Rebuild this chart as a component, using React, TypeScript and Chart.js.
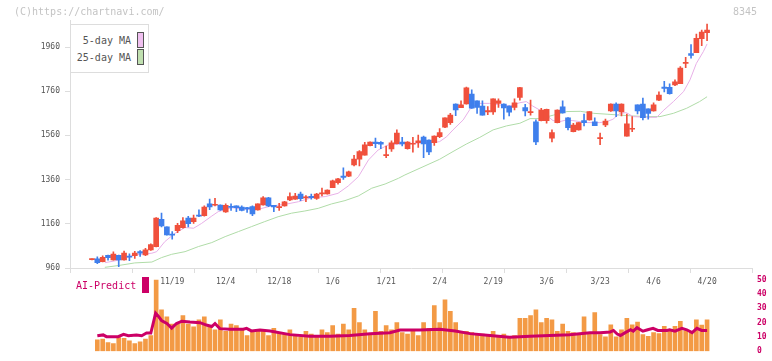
import React, { useEffect, useRef } from 'react';
import { Chart, registerables } from 'chart.js';
Chart.register(...registerables);

// ---- Data ----
const xTickIdx = [15, 25, 35, 45, 55, 65, 75, 85, 95, 105, 115];
const xTickLabels = ['11/19', '12/4', '12/18', '1/6', '1/21', '2/4', '2/19', '3/6', '3/23', '4/6', '4/20'];
const yTicks = [960, 1160, 1360, 1560, 1760, 1960];

const open = [998, 1001, 989, 1017, 996, 1017, 996, 1013, 1016, 1034, 1019, 1042, 1057, 1180, 1146, 1113, 1129, 1143, 1186, 1170, 1200, 1197, 1250, 1244, 1245, 1214, 1238, 1241, 1236, 1233, 1238, 1223, 1245, 1277, 1244, 1233, 1241, 1268, 1271, 1295, 1277, 1284, 1275, 1295, 1295, 1324, 1346, 1376, 1376, 1426, 1453, 1471, 1514, 1530, 1529, 1468, 1499, 1523, 1530, 1500, 1520, 1527, 1553, 1539, 1527, 1554, 1597, 1618, 1702, 1686, 1702, 1747, 1716, 1693, 1666, 1666, 1705, 1702, 1693, 1687, 1732, 1686, 1663, 1622, 1627, 1627, 1548, 1618, 1689, 1640, 1577, 1585, 1627, 1630, 1621, 1545, 1607, 1671, 1702, 1666, 1557, 1588, 1698, 1702, 1680, 1671, 1720, 1779, 1778, 1788, 1794, 1886, 1930, 1934, 1998, 2025];
const high = [1002, 1010, 1015, 1019, 1033, 1019, 1037, 1024, 1036, 1039, 1049, 1069, 1188, 1209, 1146, 1125, 1162, 1188, 1194, 1200, 1223, 1241, 1272, 1275, 1246, 1250, 1250, 1241, 1241, 1234, 1241, 1250, 1283, 1280, 1244, 1253, 1262, 1300, 1298, 1304, 1288, 1295, 1298, 1322, 1314, 1358, 1366, 1413, 1399, 1470, 1491, 1529, 1531, 1548, 1532, 1512, 1536, 1585, 1551, 1532, 1551, 1561, 1557, 1540, 1558, 1591, 1640, 1660, 1703, 1716, 1779, 1766, 1716, 1716, 1690, 1725, 1725, 1703, 1694, 1725, 1778, 1701, 1720, 1630, 1683, 1679, 1585, 1676, 1717, 1641, 1615, 1618, 1657, 1668, 1640, 1570, 1634, 1703, 1708, 1703, 1657, 1645, 1698, 1729, 1680, 1708, 1757, 1805, 1793, 1811, 1871, 1913, 1971, 2019, 2037, 2064];
const low = [997, 980, 987, 995, 995, 966, 995, 993, 1003, 1012, 1016, 1040, 1055, 1146, 1109, 1091, 1120, 1140, 1146, 1162, 1192, 1195, 1224, 1241, 1220, 1211, 1220, 1215, 1218, 1212, 1197, 1222, 1244, 1238, 1215, 1220, 1240, 1265, 1270, 1265, 1260, 1271, 1270, 1286, 1294, 1323, 1339, 1361, 1373, 1422, 1422, 1471, 1513, 1505, 1500, 1459, 1487, 1522, 1512, 1498, 1484, 1506, 1459, 1473, 1515, 1550, 1595, 1610, 1649, 1685, 1701, 1682, 1660, 1652, 1654, 1655, 1687, 1633, 1648, 1675, 1720, 1648, 1652, 1518, 1626, 1615, 1530, 1617, 1661, 1585, 1576, 1584, 1603, 1629, 1604, 1518, 1600, 1668, 1645, 1648, 1557, 1577, 1657, 1630, 1634, 1670, 1717, 1757, 1747, 1785, 1794, 1867, 1909, 1934, 1966, 1989];
const close = [1001, 984, 1008, 1007, 1023, 996, 1028, 1009, 1027, 1027, 1042, 1066, 1186, 1150, 1110, 1108, 1153, 1173, 1161, 1186, 1195, 1236, 1236, 1248, 1223, 1244, 1234, 1233, 1220, 1227, 1205, 1250, 1278, 1241, 1236, 1238, 1259, 1283, 1286, 1274, 1281, 1278, 1295, 1300, 1313, 1354, 1363, 1370, 1395, 1453, 1487, 1517, 1530, 1523, 1520, 1473, 1526, 1571, 1521, 1530, 1524, 1536, 1521, 1485, 1557, 1573, 1639, 1652, 1675, 1698, 1775, 1683, 1687, 1652, 1672, 1725, 1717, 1684, 1665, 1708, 1776, 1671, 1668, 1530, 1675, 1678, 1573, 1675, 1662, 1595, 1607, 1618, 1618, 1668, 1604, 1550, 1625, 1702, 1671, 1702, 1612, 1592, 1671, 1640, 1659, 1698, 1743, 1773, 1749, 1802, 1865, 1891, 1922, 1999, 2028, 2037];

// moving averages: [day index, value]
const ma5: [number, number][] = [[2.4, 984], [4.9, 995], [8, 1019], [11.2, 1027], [12.1, 1034], [13.6, 1079], [15.5, 1117], [17.4, 1143], [19, 1140], [20.5, 1162], [22.4, 1195], [23.6, 1215], [26.1, 1233], [28.6, 1226], [31.1, 1226], [33.6, 1241], [36.1, 1248], [38.6, 1260], [41.1, 1278], [43.6, 1283], [46, 1298], [47.9, 1331], [49.8, 1373], [51.7, 1449], [53.5, 1494], [55.4, 1517], [57.3, 1520], [58.5, 1524], [60, 1524], [62, 1527], [64, 1528], [65, 1532], [66.3, 1554], [67.5, 1585], [69.4, 1630], [70.9, 1687], [72.5, 1705], [74.3, 1705], [76.2, 1698], [78.1, 1693], [80, 1708], [81.2, 1713], [82.4, 1693], [83.7, 1675], [84.9, 1652], [86.2, 1627], [87.4, 1622], [88.7, 1630], [89.9, 1627], [92.5, 1618], [94.9, 1618], [96.2, 1622], [97.4, 1633], [98.7, 1660], [99.9, 1663], [101.2, 1645], [103.7, 1642], [105.6, 1642], [106.8, 1672], [108.7, 1713], [110.6, 1758], [111.8, 1811], [113, 1886], [114.3, 1939], [115, 1974]];
const ma25: [number, number][] = [[2.4, 963], [4.9, 971], [8, 983], [11.2, 987], [13, 1007], [14.9, 1022], [17.4, 1034], [19.9, 1057], [22.4, 1075], [24.9, 1102], [27.4, 1125], [29.8, 1147], [32.3, 1170], [34.8, 1192], [37.3, 1208], [39.8, 1218], [42.3, 1230], [44.8, 1250], [47.3, 1265], [49.8, 1286], [52.3, 1321], [54.8, 1340], [57.3, 1366], [58.5, 1381], [65, 1452], [67.5, 1487], [70, 1521], [72.5, 1551], [75, 1585], [77.5, 1603], [80, 1615], [81.9, 1636], [83.8, 1636], [86.3, 1652], [88.8, 1668], [91.3, 1669], [93.8, 1660], [96.3, 1656], [98.7, 1652], [101.2, 1648], [103.7, 1645], [106.2, 1645], [108.7, 1660], [111.2, 1683], [113.6, 1713], [115, 1735]];

const volume = [null, 7.9, 8.5, 6, 5.4, 9.5, 9.1, 7.2, 5.4, 6.6, 8.5, 11, 55, 29, 24, 19, 19, 25, 19, 17, 22, 24, 18, 15, 22, 14, 19, 18, 15, 11, 14, 15, 14, 11, 16, 13, 12, 15, 11, 10, 14, 12, 10, 15, 13, 18, 12, 19, 15, 30, 20, 15, 12, 28, 14, 18, 15, 20, 13, 12, 15, 11, 20, 16, 32, 20, 36, 28, 20, 14, 14, 13, 12, 12, 11, 14, 10, 12, 10, 11, 23, 23, 25, 29, 20, 23, 22, 14, 19, 14, 13, 12, 24, 13, 27, 11.6, 10, 18.5, 10, 15, 23, 18.5, 20.4, 11.6, 10.4, 13, 12.3, 17.4, 14, 17.4, 21, 14.3, 13, 22, 18.3, 22];
const aiPredict: [number, number][] = [[1, 10.8], [2.1, 11.4], [2.7, 10.2], [4.9, 10.2], [5.9, 11.8], [6.8, 10.8], [8.3, 11.4], [9.3, 10.8], [10.2, 12.7], [11, 12.7], [11.3, 17.3], [11.9, 26.7], [12.4, 24.6], [13, 21.5], [14, 19.4], [14.9, 16.2], [15.8, 19.4], [16.8, 21], [18.3, 20.4], [20.2, 20], [21.4, 18.3], [22.4, 17.3], [23, 19.4], [23.9, 15.8], [25.8, 15.4], [28.3, 15.4], [28.9, 16], [29.8, 14.2], [31.4, 14.8], [33.3, 14.2], [37, 11.6], [40.7, 10.4], [44.5, 10.4], [48.2, 11], [52, 12.3], [55.7, 12.9], [57.6, 14.8], [61.3, 14.8], [65, 15.4], [67.9, 14.2], [70.7, 12.3], [74.4, 11], [78.1, 9.7], [81.9, 10.4], [85.6, 11], [89.3, 11.6], [93.1, 12.9], [95, 13], [96.9, 13.5], [97.5, 14.5], [98.2, 12], [98.8, 11], [99.7, 13], [100.7, 15], [101.2, 14], [101.9, 16.5], [103, 14], [103.9, 15], [104.9, 16], [105.8, 14.5], [107.5, 14.5], [108, 15], [109, 14], [110.3, 16], [111.2, 15], [112.2, 13], [113.1, 16], [114, 14.5], [115, 14.5]];
const aiTicks = [0, 10, 20, 30, 40, 50];

const X_MIN = -4.11;
const X_MAX = 123.4;
const RED = '#f0503c';
const BLUE = '#3f7fec';
const PINK = '#e8b0e8';
const GREEN = '#b0dca8';
const ORANGE = '#f39a45';
const MAGENTA = '#cc0066';
const MONO = '"DejaVu Sans Mono", monospace';

export default function App() {
  const mainRef = useRef<HTMLCanvasElement>(null);
  const subRef = useRef<HTMLCanvasElement>(null);

  useEffect(() => {
    const idx = open.map((_, i) => i);
    const colors = idx.map((i) => (close[i] >= open[i] ? RED : BLUE));

    const main = new Chart(mainRef.current!, {
      type: 'bar',
      data: {
        datasets: [
          {
            type: 'bar',
            data: idx.map((i) => ({ x: i, y: [open[i], close[i]] })) as any,
            backgroundColor: colors,
            barThickness: 5,
            minBarLength: 1,
            grouped: false,
            borderWidth: 0,
          } as any,
          {
            type: 'bar',
            data: idx.map((i) => ({ x: i, y: [low[i], high[i]] })) as any,
            backgroundColor: colors,
            barThickness: 1,
            minBarLength: 1,
            grouped: false,
            borderWidth: 0,
          } as any,
          {
            type: 'line',
            data: ma5.map(([x, y]) => ({ x, y })),
            borderColor: PINK,
            borderWidth: 1,
            pointRadius: 0,
            tension: 0,
          } as any,
          {
            type: 'line',
            data: ma25.map(([x, y]) => ({ x, y })),
            borderColor: GREEN,
            borderWidth: 1,
            pointRadius: 0,
            tension: 0,
          } as any,
        ],
      },
      options: {
        responsive: false,
        animation: false,
        events: [],
        layout: { padding: { top: 20.5, bottom: 11, left: 0, right: 20 } },
        plugins: { legend: { display: false }, tooltip: { enabled: false } },
        scales: {
          xg: {
            type: 'linear',
            position: 'bottom',
            min: X_MIN,
            max: X_MAX,
            offset: false,
            weight: 0,
            grid: { display: true, offset: false, drawOnChartArea: false, drawTicks: true, tickLength: 5, color: '#dddddd' },
            border: { display: true, color: '#dddddd' },
            ticks: { display: false },
            afterBuildTicks: (s: any) => {
              const t = [];
              for (let k = 0; k <= 11; k++) t.push({ value: X_MIN + (k * (X_MAX - X_MIN)) / 11 });
              s.ticks = t;
            },
            afterFit: (s: any) => { s.height = 5; },
          } as any,
          x: {
            type: 'linear',
            position: 'bottom',
            min: X_MIN,
            max: X_MAX,
            offset: false,
            weight: 1,
            grid: { display: false, offset: false, drawTicks: false },
            border: { display: false },
            ticks: {
              autoSkip: false,
              maxRotation: 0,
              padding: 4,
              color: '#555555',
              font: { family: MONO, size: 8 },
              callback: (v: any) => {
                const k = xTickIdx.indexOf(Number(v));
                return k >= 0 ? xTickLabels[k] : '';
              },
            },
            afterBuildTicks: (s: any) => { s.ticks = xTickIdx.map((v) => ({ value: v })); },
            afterFit: (s: any) => { s.height = 16; },
          } as any,
          y: {
            type: 'linear',
            position: 'left',
            min: 960,
            max: 2080,
            grid: { display: true, drawOnChartArea: false, drawTicks: true, tickLength: 5, color: '#dddddd' },
            border: { display: true, color: '#dddddd' },
            ticks: { padding: 5, color: '#555555', font: { family: MONO, size: 8 }, callback: (v: any) => String(v) },
            afterBuildTicks: (s: any) => { s.ticks = yTicks.map((v) => ({ value: v })); },
            afterFit: (s: any) => { s.width = 70; },
          } as any,
        },
      },
    });

    const sub = new Chart(subRef.current!, {
      type: 'bar',
      data: {
        datasets: [
          {
            type: 'line',
            data: aiPredict.map(([x, y]) => ({ x, y })),
            borderColor: MAGENTA,
            borderWidth: 3,
            pointRadius: 0,
            tension: 0,
          } as any,
          {
            type: 'bar',
            data: idx.map((i) => ({ x: i, y: volume[i] })) as any,
            backgroundColor: ORANGE,
            barThickness: 4,
            grouped: false,
            borderWidth: 0,
          } as any,
        ],
      },
      options: {
        responsive: false,
        animation: false,
        events: [],
        layout: { padding: { top: 7.5, bottom: 3.5, left: 70, right: 0 } },
        plugins: { legend: { display: false }, tooltip: { enabled: false } },
        scales: {
          x: { type: 'linear', min: X_MIN, max: X_MAX, offset: false, display: false } as any,
          y: {
            type: 'linear',
            position: 'right',
            min: 0,
            max: 50,
            grid: { display: false, drawTicks: false },
            border: { display: false },
            ticks: { padding: 5, color: MAGENTA, font: { family: MONO, size: 8, weight: 'bold' } },
            afterBuildTicks: (s: any) => { s.ticks = aiTicks.map((v) => ({ value: v })); },
            afterFit: (s: any) => { s.width = 20; },
          } as any,
        },
      },
    });

    return () => {
      main.destroy();
      sub.destroy();
    };
  }, []);

  const textBase: React.CSSProperties = { position: 'absolute', fontFamily: MONO, whiteSpace: 'nowrap', lineHeight: '12px' };

  return (
    <div style={{ position: 'fixed', left: 0, top: 0, width: 772, height: 361, background: '#ffffff', overflow: 'hidden' }}>
      <canvas ref={mainRef} width={772} height={300} style={{ position: 'absolute', left: 0, top: 0 }} />
      <canvas ref={subRef} width={772} height={91} style={{ position: 'absolute', left: 0, top: 270 }} />
      <div style={{ ...textBase, left: 14, top: 6, fontSize: 10, color: '#c4c4c4' }}>(C)https://chartnavi.com/</div>
      <div style={{ ...textBase, left: 733, top: 6, fontSize: 10, color: '#c4c4c4' }}>8345</div>
      <div style={{ position: 'absolute', left: 70, top: 24, width: 77, height: 47, border: '1px solid #dddddd', background: '#ffffff' }}>
        <div style={{ ...textBase, right: 17, top: 10, fontSize: 10, color: '#555555', textAlign: 'right' }}>5-day MA</div>
        <div style={{ position: 'absolute', left: 66, top: 7, width: 5, height: 14, background: '#f0c0f0', border: '1px solid #555555' }} />
        <div style={{ ...textBase, right: 17, top: 27, fontSize: 10, color: '#555555', textAlign: 'right' }}>25-day MA</div>
        <div style={{ position: 'absolute', left: 66, top: 24, width: 5, height: 14, background: '#c0e0b0', border: '1px solid #555555' }} />
      </div>
      <div style={{ ...textBase, left: 76, top: 280, fontSize: 10, color: MAGENTA }}>AI-Predict</div>
      <div style={{ position: 'absolute', left: 142, top: 277, width: 7, height: 16, background: MAGENTA }} />
    </div>
  );
}
